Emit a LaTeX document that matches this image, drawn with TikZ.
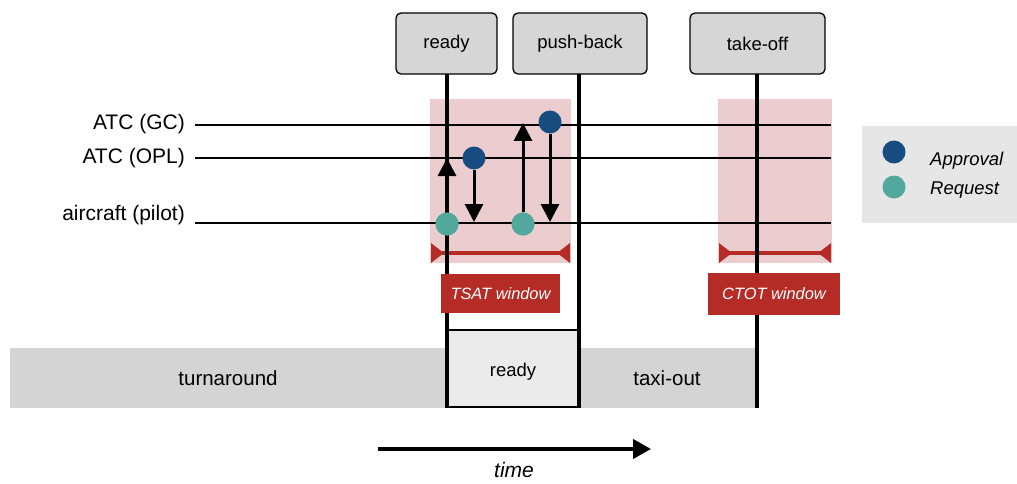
\documentclass[tikz,border=0pt]{standalone}
\usepackage{fontspec}
\setmainfont{Liberation Sans}
\usetikzlibrary{arrows.meta}
\definecolor{pinkwin}{RGB}{236,205,207}
\definecolor{redwin}{RGB}{180,44,37}
\definecolor{barGray}{RGB}{212,212,212}
\definecolor{boxGray}{RGB}{214,214,214}
\definecolor{readyGray}{RGB}{235,235,235}
\definecolor{legGray}{RGB}{230,230,230}
\definecolor{apprBlue}{RGB}{22,76,128}
\definecolor{reqTeal}{RGB}{82,168,156}
\tikzset{
  evbox/.style={draw=black, line width=1.3pt, fill=boxGray, rounded corners=5pt,
    minimum height=61pt, inner sep=0pt, font=\fontsize{18.5}{20}\selectfont},
  tline/.style={line width=3.2pt, black},
  hline/.style={line width=1.4pt, black},
  lbl/.style={anchor=base east, inner sep=0pt, font=\fontsize{21}{24}\selectfont},
  bartxt/.style={anchor=base, inner sep=0pt, font=\fontsize{20.5}{24}\selectfont},
  appr/.style={circle, fill=apprBlue, minimum size=23pt, inner sep=0pt},
  req/.style={circle, fill=reqTeal, minimum size=23pt, inner sep=0pt},
  msg/.style={line width=3pt, -{Triangle[length=18pt, width=18pt]}},
  bracket/.style={line width=3.5pt, redwin,
    {Triangle[reversed, length=13pt, width=19pt]}-{Triangle[reversed, length=13pt, width=19pt]}},
  redlbl/.style={fill=redwin, text=white, inner sep=0pt,
    font=\fontsize{16.4}{18}\selectfont\itshape},
  legtxt/.style={anchor=base west, inner sep=0pt, font=\fontsize{18.5}{20}\selectfont\itshape}
}
\begin{document}
\begin{tikzpicture}[x=1pt, y=-1pt]
\useasboundingbox (0,0) rectangle (1017,484);

% windows
\fill[pinkwin] (430,99) rectangle (571,263);
\fill[pinkwin] (718,99) rectangle (832,263);

% bottom phase bar
\fill[barGray] (10,348) rectangle (757,408);
\draw[line width=1.6pt, fill=readyGray] (447,330) rectangle (579,407);
\node[bartxt] (turn) at (228,385) {turnaround};
\node[bartxt] (taxi) at (667,385) {taxi-out};
\node[bartxt, font=\fontsize{18.5}{20}\selectfont] (readyb) at (513,376) {ready};

% actor lines
\coordinate (gcL) at (195,125);   \coordinate (gcR) at (831,125);
\coordinate (oplL) at (195,158);  \coordinate (oplR) at (831,158);
\coordinate (acL) at (195,223);   \coordinate (acR) at (831,223);
\draw[hline] (gcL) -- (gcR);
\draw[hline] (oplL) -- (oplR);
\draw[hline] (acL) -- (acR);
\node[lbl] (gc) at (185,129) {ATC (GC)};
\node[lbl] (opl) at (185,164) {ATC (OPL)};
\node[lbl] (ac) at (185,220) {aircraft (pilot)};

% brackets
\coordinate (tsL) at (431,253); \coordinate (tsR) at (570,253);
\coordinate (ctL) at (719,253); \coordinate (ctR) at (831,253);
\draw[bracket] (tsL) -- (tsR);
\draw[bracket] (ctL) -- (ctR);

% event boxes and timelines
\node[evbox, minimum width=101pt] (ready) at (446.5,43.5) {ready};
\node[evbox, minimum width=134pt] (push) at (580,43.5) {push-back};
\node[evbox, minimum width=135pt] (take) at (757.5,43.5) {take-off};
\coordinate (readyE) at (447,408);
\coordinate (pushE) at (579,408);
\coordinate (takeE) at (757,408);
\draw[tline] (447,74) -- (readyE);
\draw[tline] (579,74) -- (pushE);
\draw[tline] (757,74) -- (takeE);

% messages
\node[req] (r1) at (447,224) {};
\node[appr] (a1) at (474,158) {};
\node[req] (r2) at (523,224) {};
\node[appr] (a2) at (550,122) {};
\coordinate (r1t) at (447,158);
\coordinate (a1t) at (474,222);
\coordinate (r2t) at (523,123);
\coordinate (a2t) at (550,222);
\draw[msg] (r1.north) -- (r1t);
\draw[msg] (a1.south) -- (a1t);
\draw[msg] (r2.north) -- (r2t);
\draw[msg] (a2.south) -- (a2t);
\node[req] at (447,224) {};
\node[req] at (523,224) {};

% window labels
\node[redlbl, minimum width=119pt, minimum height=39pt] (tsat) at (500.5,293.5) {TSAT window};
\node[redlbl, minimum width=132pt, minimum height=42pt] (ctot) at (774,294) {CTOT window};

% legend
\fill[legGray] (862,126) rectangle (1017,223);
\node[appr] (la) at (894,152) {};
\node[req] (lr) at (894,187) {};
\node[legtxt] (lat) at (930,165) {Approval};
\node[legtxt] (lrt) at (930,194) {Request};

% time arrow
\coordinate (t0) at (378,449);
\coordinate (t1) at (651,449);
\draw[line width=4pt, -{Triangle[length=18pt, width=19pt]}] (t0) -- (t1);
\node[anchor=base, inner sep=0pt, font=\fontsize{21}{24}\selectfont\itshape] (time) at (514,477) {time};
\end{tikzpicture}
\end{document}
